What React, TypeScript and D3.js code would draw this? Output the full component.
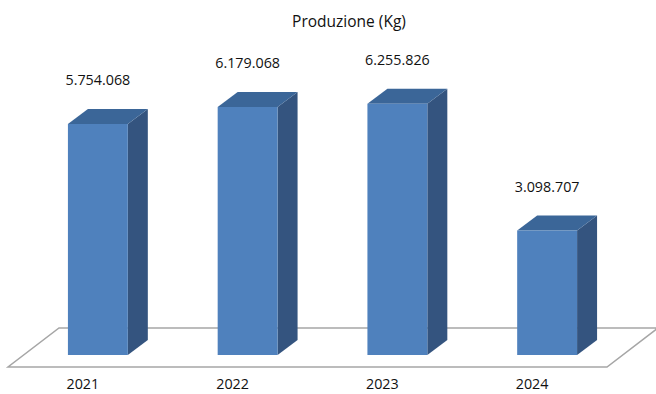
import React from "react";
import * as d3 from "d3";

const categories = ["2021", "2022", "2023", "2024"];
const values = [5754068, 6179068, 6255826, 3098707];
const title = "Produzione (Kg)";

const W = 656;
const H = 394;
const FONT = "'Open Sans', 'Noto Sans', sans-serif";

const fmt = (v: number) => d3.format(",")(v).replace(/,/g, ".");

export default function App() {
  const x = d3
    .scaleBand<string>()
    .domain(categories)
    .range([23, 622])
    .paddingInner(0.6)
    .paddingOuter(0.3);
  const baseY = 355;
  const y = d3.scaleLinear().domain([0, 7000000]).range([baseY, 74]);
  const bw = x.bandwidth();
  const dx = 20;
  const dy = 15;

  // floor parallelogram
  const fl = 8, fr = 607, fy = 367, fdx = 51, fdy = 39;
  const floor = d3.path();
  floor.moveTo(fl, fy);
  floor.lineTo(fr, fy);
  floor.lineTo(fr + fdx, fy - fdy);
  floor.lineTo(fl + fdx, fy - fdy);
  floor.closePath();

  return (
    <svg
      width={W}
      height={H}
      style={{ position: "absolute", left: 0, top: 0, background: "#fff" }}
      fontFamily={FONT}
    >
      <rect x={0} y={0} width={W} height={H} fill="#fff" />
      <text x={349} y={27} textAnchor="middle" fontSize={15.5} fill="#111">
        {title}
      </text>
      <path d={floor.toString()} fill="#fff" stroke="#a6a6a6" strokeWidth={1.5} />
      {categories.map((c, i) => {
        const x0 = x(c)!;
        const x1 = x0 + bw;
        const yt = y(values[i]);
        const front = `M${x0},${yt}L${x1},${yt}L${x1},${baseY}L${x0},${baseY}Z`;
        const side = `M${x1},${yt}L${x1 + dx},${yt - dy}L${x1 + dx},${baseY - dy}L${x1},${baseY}Z`;
        const top = `M${x0},${yt}L${x0 + dx},${yt - dy}L${x1 + dx},${yt - dy}L${x1},${yt}Z`;
        return (
          <g key={c}>
            <path d={side} fill="#34547f" />
            <path d={top} fill="#3b6698" />
            <path d={front} fill="#4f81bd" />
            <text
              x={x0 + bw / 2}
              y={yt - 39}
              textAnchor="middle"
              fontSize={14.3}
              fill="#111"
            >
              {fmt(values[i])}
            </text>
            <text
              x={x0 + bw / 2 - 15}
              y={389}
              textAnchor="middle"
              fontSize={14.3}
              fill="#111"
            >
              {c}
            </text>
          </g>
        );
      })}
    </svg>
  );
}
